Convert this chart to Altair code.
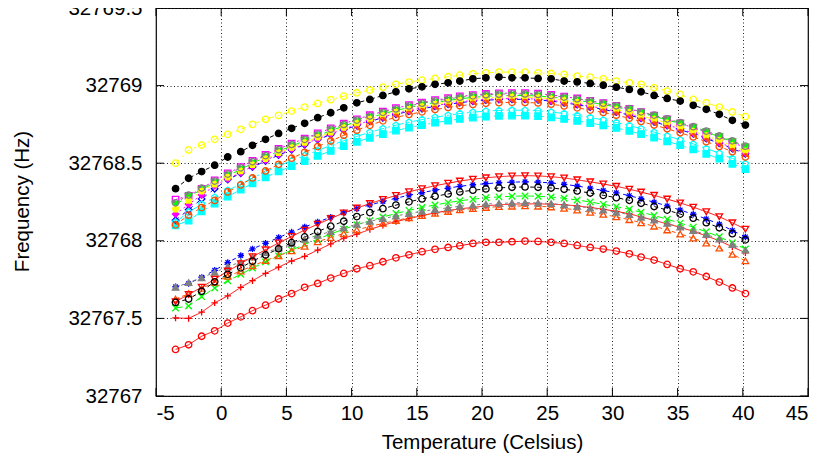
import altair as alt
import pandas as pd

# ---------------- data ----------------
temps = [-3.5, -2.5, -1.5, -0.5, 0.5, 1.5, 2.4, 3.4, 4.4, 5.4, 6.4, 7.4, 8.4, 9.4,
         10.4, 11.4, 12.4, 13.4, 14.4, 15.4, 16.4, 17.4, 18.3, 19.3, 20.3, 21.3,
         22.3, 23.3, 24.3, 25.3, 26.3, 27.3, 28.3, 29.3, 30.3, 31.3, 32.2, 33.2,
         34.2, 35.2, 36.2, 37.2, 38.2, 39.2, 40.2]

BASE_HZ = 32768.0  # deviations below are in Hz relative to 32768 Hz

red_plus = [-0.497, -0.500, -0.460, -0.400, -0.355, -0.300, -0.257, -0.210, -0.170, -0.130, -0.100, -0.060, -0.020, 0.017, 0.043, 0.073, 0.100, 0.124, 0.143, 0.163, 0.180, 0.195, 0.206, 0.215, 0.225, 0.232, 0.236, 0.238, 0.238, 0.236, 0.232, 0.225, 0.215, 0.203, 0.190, 0.174, 0.154, 0.132, 0.109, 0.087, 0.061, 0.032, 0.000, -0.039, -0.077]
green_x = [-0.433, -0.420, -0.360, -0.304, -0.257, -0.216, -0.175, -0.136, -0.097, -0.060, -0.023, 0.011, 0.044, 0.075, 0.103, 0.129, 0.153, 0.176, 0.196, 0.215, 0.231, 0.246, 0.258, 0.268, 0.277, 0.283, 0.287, 0.289, 0.287, 0.282, 0.274, 0.263, 0.250, 0.235, 0.220, 0.203, 0.184, 0.163, 0.139, 0.114, 0.088, 0.058, 0.026, -0.013, -0.053]
blue_star = [-0.296, -0.275, -0.235, -0.190, -0.140, -0.095, -0.052, -0.016, 0.021, 0.056, 0.089, 0.121, 0.152, 0.180, 0.207, 0.231, 0.253, 0.274, 0.294, 0.311, 0.326, 0.340, 0.351, 0.361, 0.368, 0.374, 0.378, 0.380, 0.378, 0.373, 0.364, 0.353, 0.339, 0.324, 0.309, 0.291, 0.271, 0.249, 0.225, 0.198, 0.171, 0.141, 0.107, 0.067, 0.025]
magenta_box = [0.266, 0.290, 0.335, 0.390, 0.435, 0.475, 0.515, 0.554, 0.592, 0.626, 0.659, 0.692, 0.724, 0.755, 0.783, 0.809, 0.833, 0.855, 0.874, 0.891, 0.906, 0.919, 0.930, 0.939, 0.946, 0.950, 0.952, 0.951, 0.948, 0.940, 0.929, 0.917, 0.902, 0.887, 0.869, 0.850, 0.829, 0.806, 0.782, 0.756, 0.729, 0.699, 0.668, 0.634, 0.600]
cyan_box = [0.100, 0.130, 0.190, 0.240, 0.285, 0.330, 0.370, 0.409, 0.447, 0.481, 0.514, 0.547, 0.579, 0.610, 0.638, 0.664, 0.688, 0.710, 0.729, 0.746, 0.761, 0.774, 0.785, 0.794, 0.801, 0.805, 0.807, 0.806, 0.803, 0.795, 0.785, 0.773, 0.759, 0.744, 0.727, 0.708, 0.687, 0.665, 0.641, 0.616, 0.589, 0.560, 0.529, 0.496, 0.462]
yellow_circle = [0.500, 0.585, 0.617, 0.654, 0.686, 0.718, 0.750, 0.783, 0.808, 0.836, 0.862, 0.885, 0.909, 0.932, 0.954, 0.971, 0.990, 1.008, 1.023, 1.035, 1.046, 1.057, 1.067, 1.076, 1.082, 1.087, 1.087, 1.087, 1.082, 1.078, 1.072, 1.061, 1.055, 1.044, 1.029, 1.018, 1.008, 0.986, 0.965, 0.943, 0.911, 0.889, 0.862, 0.830, 0.800]
black_dot = [0.336, 0.403, 0.446, 0.487, 0.540, 0.574, 0.615, 0.654, 0.692, 0.725, 0.757, 0.793, 0.825, 0.857, 0.889, 0.911, 0.937, 0.960, 0.979, 0.992, 1.008, 1.018, 1.029, 1.044, 1.050, 1.055, 1.050, 1.050, 1.046, 1.044, 1.029, 1.024, 1.014, 1.003, 0.990, 0.975, 0.960, 0.937, 0.917, 0.900, 0.873, 0.847, 0.815, 0.776, 0.746]
orange_tri = [-0.375, -0.341, -0.306, -0.268, -0.229, -0.195, -0.161, -0.128, -0.096, -0.065, -0.035, -0.006, 0.021, 0.047, 0.071, 0.092, 0.112, 0.131, 0.148, 0.163, 0.177, 0.189, 0.199, 0.208, 0.215, 0.220, 0.223, 0.225, 0.223, 0.218, 0.209, 0.198, 0.184, 0.170, 0.154, 0.136, 0.116, 0.094, 0.070, 0.044, 0.017, -0.014, -0.047, -0.087, -0.129]
gray_tri = [-0.300, -0.269, -0.238, -0.203, -0.167, -0.136, -0.105, -0.075, -0.046, -0.018, 0.010, 0.035, 0.060, 0.084, 0.106, 0.125, 0.143, 0.160, 0.176, 0.190, 0.202, 0.213, 0.223, 0.230, 0.237, 0.241, 0.244, 0.246, 0.244, 0.240, 0.232, 0.222, 0.211, 0.198, 0.184, 0.169, 0.152, 0.133, 0.112, 0.089, 0.066, 0.040, 0.011, -0.024, -0.060]
red_down_tri = [-0.392, -0.346, -0.299, -0.247, -0.195, -0.148, -0.102, -0.058, -0.014, 0.028, 0.069, 0.107, 0.144, 0.179, 0.211, 0.240, 0.267, 0.292, 0.316, 0.336, 0.355, 0.371, 0.385, 0.397, 0.406, 0.413, 0.418, 0.420, 0.418, 0.413, 0.405, 0.393, 0.380, 0.366, 0.351, 0.333, 0.314, 0.293, 0.269, 0.244, 0.217, 0.187, 0.155, 0.116, 0.075]
green_down_tri = [0.235, 0.285, 0.330, 0.375, 0.420, 0.460, 0.500, 0.539, 0.577, 0.611, 0.644, 0.677, 0.709, 0.740, 0.768, 0.794, 0.818, 0.840, 0.859, 0.876, 0.891, 0.904, 0.915, 0.924, 0.931, 0.935, 0.937, 0.936, 0.933, 0.926, 0.917, 0.905, 0.892, 0.878, 0.862, 0.844, 0.824, 0.802, 0.779, 0.755, 0.729, 0.701, 0.670, 0.638, 0.605]
blue_diamond = [0.133, 0.200, 0.270, 0.335, 0.395, 0.435, 0.475, 0.514, 0.552, 0.586, 0.619, 0.652, 0.684, 0.715, 0.743, 0.769, 0.793, 0.815, 0.834, 0.851, 0.866, 0.879, 0.890, 0.899, 0.906, 0.910, 0.912, 0.911, 0.908, 0.900, 0.889, 0.877, 0.862, 0.847, 0.829, 0.810, 0.789, 0.766, 0.742, 0.716, 0.689, 0.659, 0.628, 0.594, 0.560]
magenta_diamond = [0.172, 0.235, 0.295, 0.355, 0.400, 0.440, 0.480, 0.519, 0.557, 0.591, 0.624, 0.657, 0.689, 0.720, 0.748, 0.774, 0.798, 0.820, 0.839, 0.856, 0.871, 0.884, 0.895, 0.904, 0.911, 0.915, 0.917, 0.916, 0.913, 0.905, 0.894, 0.882, 0.867, 0.852, 0.834, 0.815, 0.794, 0.771, 0.747, 0.721, 0.694, 0.664, 0.633, 0.599, 0.565]
cyan_pentagon = [0.120, 0.185, 0.235, 0.280, 0.325, 0.365, 0.405, 0.444, 0.482, 0.516, 0.549, 0.582, 0.614, 0.645, 0.673, 0.699, 0.723, 0.745, 0.764, 0.781, 0.796, 0.809, 0.820, 0.829, 0.836, 0.840, 0.842, 0.841, 0.838, 0.830, 0.820, 0.808, 0.794, 0.779, 0.762, 0.743, 0.722, 0.700, 0.676, 0.651, 0.624, 0.595, 0.564, 0.531, 0.497]
yellow_pentagon = [0.204, 0.260, 0.320, 0.365, 0.410, 0.450, 0.490, 0.529, 0.567, 0.601, 0.634, 0.667, 0.699, 0.730, 0.758, 0.784, 0.808, 0.830, 0.849, 0.866, 0.881, 0.894, 0.905, 0.914, 0.921, 0.925, 0.927, 0.926, 0.923, 0.915, 0.905, 0.892, 0.878, 0.863, 0.846, 0.826, 0.805, 0.783, 0.759, 0.733, 0.706, 0.677, 0.646, 0.612, 0.578]
black_ring = [-0.397, -0.375, -0.325, -0.264, -0.216, -0.174, -0.131, -0.091, -0.051, -0.012, 0.025, 0.060, 0.094, 0.126, 0.156, 0.182, 0.207, 0.230, 0.251, 0.270, 0.287, 0.302, 0.315, 0.326, 0.334, 0.341, 0.345, 0.347, 0.345, 0.340, 0.332, 0.321, 0.308, 0.293, 0.278, 0.261, 0.242, 0.221, 0.198, 0.172, 0.146, 0.117, 0.084, 0.046, 0.006]
orange_ring = [0.103, 0.165, 0.214, 0.260, 0.315, 0.360, 0.405, 0.450, 0.493, 0.532, 0.570, 0.607, 0.643, 0.680, 0.713, 0.744, 0.773, 0.795, 0.814, 0.831, 0.846, 0.859, 0.870, 0.879, 0.886, 0.890, 0.892, 0.891, 0.888, 0.880, 0.869, 0.857, 0.842, 0.827, 0.809, 0.790, 0.769, 0.746, 0.722, 0.696, 0.669, 0.639, 0.608, 0.574, 0.540]
gray_ring = [0.245, 0.295, 0.340, 0.385, 0.430, 0.470, 0.510, 0.549, 0.587, 0.621, 0.654, 0.687, 0.719, 0.750, 0.778, 0.804, 0.828, 0.850, 0.869, 0.886, 0.901, 0.914, 0.925, 0.934, 0.941, 0.945, 0.947, 0.946, 0.943, 0.936, 0.926, 0.915, 0.901, 0.887, 0.870, 0.852, 0.831, 0.810, 0.786, 0.762, 0.735, 0.707, 0.676, 0.644, 0.610]
red_ring = [-0.700, -0.670, -0.615, -0.580, -0.530, -0.490, -0.450, -0.415, -0.375, -0.340, -0.300, -0.275, -0.240, -0.210, -0.180, -0.160, -0.135, -0.110, -0.090, -0.070, -0.055, -0.043, -0.032, -0.017, -0.010, -0.010, -0.006, -0.002, -0.004, -0.010, -0.017, -0.030, -0.043, -0.053, -0.066, -0.084, -0.105, -0.124, -0.152, -0.180, -0.200, -0.230, -0.266, -0.304, -0.340]

series_dev = [red_plus, green_x, blue_star, magenta_box, cyan_box, yellow_circle,
              black_dot, orange_tri, gray_tri, red_down_tri, green_down_tri,
              blue_diamond, magenta_diamond, cyan_pentagon, yellow_pentagon,
              black_ring, orange_ring, gray_ring, red_ring]
series_names = [f"Crystal {i + 1}" for i in range(len(series_dev))]

x_ticks = [-5, 0, 5, 10, 15, 20, 25, 30, 35, 40, 45]
y_ticks = [32767, 32767.5, 32768, 32768.5, 32769, 32769.5]

# ---------------- styles ----------------
RED, GREEN, BLUE, MAG, CYAN, YEL, BLK, ORG, GRY = (
    "#ff0000", "#00ff00", "#0000ff", "#ff00ff", "#00ffff", "#ffff00",
    "#000000", "#ff4d00", "#808080")
NONE = "transparent"
stroke_colors = [RED, GREEN, BLUE, MAG, CYAN, YEL, BLK, ORG, GRY,
                 RED, GREEN, BLUE, MAG, CYAN, YEL, BLK, ORG, GRY, RED]
fill_colors = [NONE, NONE, NONE, NONE, CYAN, NONE, BLK, NONE, GRY,
               NONE, GREEN, NONE, MAG, NONE, YEL, NONE, NONE, NONE, NONE]
PLUS = "M-1,0L1,0M0,-1L0,1"
CROSS = "M-1,-1L1,1M-1,1L1,-1"
STAR = "M-1,0L1,0M0,-1L0,1M-0.7,-0.7L0.7,0.7M-0.7,0.7L0.7,-0.7"
PENT = "M0,-1L0.951,-0.309L0.588,0.809L-0.588,0.809L-0.951,-0.309Z"
shapes = [PLUS, CROSS, STAR, "square", "square", "circle", "circle",
          "triangle-up", "triangle-up", "triangle-down", "triangle-down",
          "diamond", "diamond", PENT, PENT, "circle", "circle", "circle", "circle"]
stroke_widths = [1.3, 1.3, 1.3, 1.5, 1.5, 1.5, 1.5, 1.5, 1.5, 1.5, 1.5, 1.5, 1.5,
                 1.5, 1.5, 2.0, 1.8, 1.8, 2.0]
dash_cycle = [[1, 0], [7, 4], [4, 5], [2, 3], [10, 4, 2, 4], [5, 4, 2, 4],
              [4, 3, 4, 7], [4, 3, 4, 3, 4, 7], [3, 3, 3, 3, 3, 3, 3, 7]]
dashes = [dash_cycle[i % 9] for i in range(len(series_dev))]

rows = []
for name, dev in zip(series_names, series_dev):
    assert len(dev) == len(temps), name
    for t, d in zip(temps, dev):
        rows.append({"series": name, "temp": t, "freq": BASE_HZ + d})
df = pd.DataFrame(rows)
xt = pd.DataFrame({"temp": x_ticks})
yt = pd.DataFrame({"freq": y_ticks})

W, H = 652, 388
FONT = "Liberation Sans"

x_enc = alt.X("temp:Q",
              scale=alt.Scale(domain=[-5, 45], nice=False, zero=False),
              axis=alt.Axis(values=x_ticks, title="Temperature (Celsius)",
                            labelExpr="'' + datum.value",
                            labelBaseline="middle", labelPadding=17,
                            titleX=W / 2, titleY=46, titleAlign="center",
                            titleBaseline="middle"))
y_enc = alt.Y("freq:Q",
              scale=alt.Scale(domain=[32767, 32769.5], nice=False, zero=False),
              axis=alt.Axis(values=y_ticks, title="Frequency (Hz)",
                            labelExpr="'' + datum.value",
                            labelPadding=14, titleX=-134, titleY=H / 2 - 1,
                            titleAngle=270, titleAlign="center",
                            titleBaseline="middle"))

sdom = series_names
lines = alt.Chart(df).mark_line(strokeWidth=1).encode(
    x=x_enc, y=y_enc, detail="series:N", order="temp:Q",
    stroke=alt.Stroke("series:N", scale=alt.Scale(domain=sdom, range=stroke_colors), legend=None),
    strokeDash=alt.StrokeDash("series:N", scale=alt.Scale(domain=sdom, range=dashes), legend=None),
)

points = alt.Chart(df).mark_point(size=42, opacity=1).encode(
    x=x_enc, y=y_enc,
    shape=alt.Shape("series:N", scale=alt.Scale(domain=sdom, range=shapes), legend=None),
    stroke=alt.Stroke("series:N", scale=alt.Scale(domain=sdom, range=stroke_colors), legend=None),
    fill=alt.Fill("series:N", scale=alt.Scale(domain=sdom, range=fill_colors), legend=None),
    strokeWidth=alt.StrokeWidth("series:N", scale=alt.Scale(domain=sdom, range=stroke_widths), legend=None),
)

Q1 = "M0,0L0,-1A1,1 0 0,1 1,0Z"
Q2 = "M0,0L-1,0A1,1 0 0,1 0,-1Z"
orange_fill = alt.Chart(df).transform_filter(
    alt.datum.series == series_names[16]
).mark_point(shape=Q1, filled=True, color=ORG, size=42, opacity=1).encode(x=x_enc, y=y_enc)
gray_fill = alt.Chart(df).transform_filter(
    alt.datum.series == series_names[17]
).mark_point(shape=Q2, filled=True, color=GRY, size=42, opacity=1).encode(x=x_enc, y=y_enc)

TL = 8
tick_b = alt.Chart(xt).mark_rule(color="black", strokeWidth=1).encode(
    x=x_enc, y=alt.value(H), y2=alt.value(H - TL))
tick_t = alt.Chart(xt).mark_rule(color="black", strokeWidth=1).encode(
    x=x_enc, y=alt.value(0), y2=alt.value(TL))
tick_l = alt.Chart(yt).mark_rule(color="black", strokeWidth=1).encode(
    y=y_enc, x=alt.value(0), x2=alt.value(TL))
tick_r = alt.Chart(yt).mark_rule(color="black", strokeWidth=1).encode(
    y=y_enc, x=alt.value(W - TL), x2=alt.value(W))

chart = alt.layer(lines, points, orange_fill, gray_fill,
                  tick_b, tick_t, tick_l, tick_r).properties(
    width=W, height=H,
    padding={"left": 148, "top": 0, "right": 5, "bottom": 59},
    autosize=alt.AutoSizeParams(type="none"),
).configure_view(stroke="black", strokeWidth=1.2).configure_axis(
    domain=False, ticks=False, tickSize=0,
    labelFont=FONT, labelFontSize=20.5, labelColor="black",
    titleFont=FONT, titleFontSize=20.5, titleFontWeight="normal", titleColor="black",
    grid=True, gridColor="#222222", gridDash=[1, 2.5], gridWidth=1, gridOpacity=1,
)

chart.save("out.html", embed_options={"renderer": "svg", "actions": False})
